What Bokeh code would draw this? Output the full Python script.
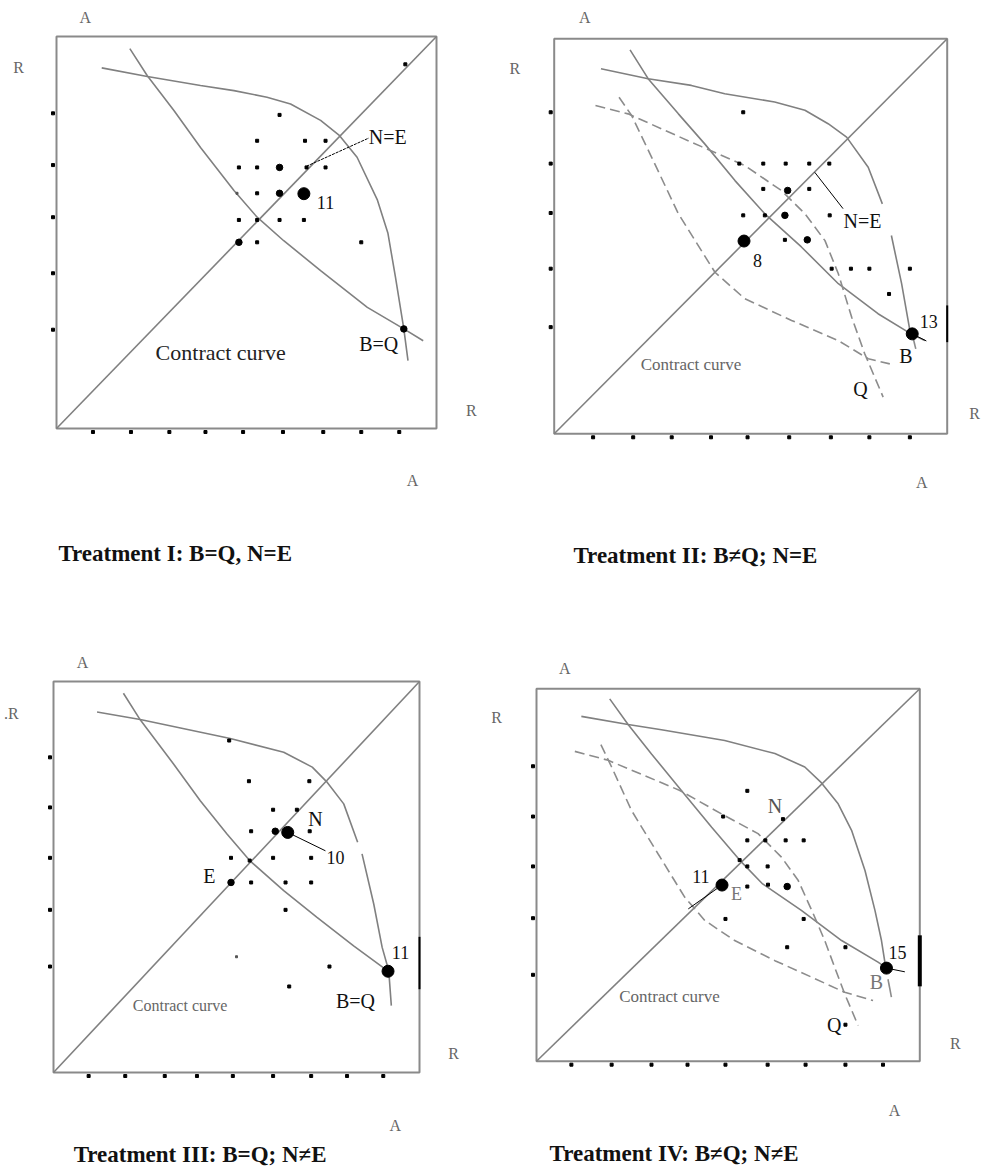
from bokeh.plotting import figure
from bokeh.layouts import column, row
from bokeh.models import Range1d, Label
from bokeh.embed import file_html
from bokeh.resources import INLINE

NAN = float("nan")

# ---------------- Panel I ----------------
t1_xticks = [0.96, 1.96, 2.97, 3.92, 4.91, 5.96, 7.02, 8.02, 9.02]
t1_yticks = [8.04, 6.72, 5.39, 3.96, 2.52]
t1_front_x = [1.19, 2.39, 3.79, 4.67, 5.54, 6.16, 6.95, 7.45, 7.91, 8.44, 8.72, 8.92, 9.14, 9.25]
t1_front_y = [9.20, 8.98, 8.75, 8.62, 8.45, 8.28, 7.86, 7.47, 6.92, 5.84, 4.99, 3.86, 2.54, 1.73]
t1_contr_x = [1.93, 2.39, 3.09, 3.79, 4.67, 5.28, 5.98, 6.95, 8.18, 9.14, 9.65]
t1_contr_y = [9.69, 9.00, 8.11, 7.17, 6.07, 5.39, 4.79, 4.03, 3.09, 2.54, 2.24]
t1_small_x = [5.87, 5.28, 6.54, 7.08, 4.80, 5.28, 6.58, 7.08, 5.28, 4.80, 5.28, 5.87, 6.51, 5.28, 8.02, 9.18]
t1_small_y = [8.00, 7.34, 7.34, 7.34, 6.66, 6.66, 6.66, 6.66, 6.00, 5.32, 5.32, 5.32, 5.32, 4.75, 4.75, 9.29]
t1_tiny_x = [4.75]
t1_tiny_y = [6.00]
t1_med_x = [5.87, 5.87, 4.80, 9.14]
t1_med_y = [6.66, 6.00, 4.75, 2.54]
t1_big_x = [6.51]
t1_big_y = [5.99]
t1_ptr_x = [6.58, 8.22]
t1_ptr_y = [6.69, 7.41]

# ---------------- Panel II ----------------
t2_xticks = [0.99, 2.01, 2.99, 3.99, 4.92, 5.98, 7.04, 8.02, 9.05]
t2_yticks = [8.14, 6.84, 5.59, 4.18, 2.70]
t2_front_x = [1.19, 2.39, 3.49, 4.34, 5.61, 6.38, 6.97, 7.44, 7.99, 8.35, NAN, 8.58, 8.84, 9.05]
t2_front_y = [9.24, 8.99, 8.82, 8.61, 8.40, 8.19, 7.85, 7.51, 6.75, 5.82, NAN, 5.02, 3.80, 2.62]
t2_contr_x = [1.93, 2.39, 3.16, 3.83, 4.60, 5.36, 6.29, 7.23, 8.24, 9.08, 9.43]
t2_contr_y = [9.72, 8.99, 8.10, 7.34, 6.41, 5.57, 4.73, 3.80, 3.04, 2.53, 2.36]
t2_dashA_x = [1.05, 1.88, 2.82, 3.75, 4.85, 5.78, 6.38, 6.89, 7.23, 7.57, 7.90, 8.37]
t2_dashA_y = [8.31, 8.10, 7.68, 7.27, 6.79, 6.16, 5.57, 4.89, 4.05, 2.95, 2.03, 0.93]
t2_dashB_x = [1.65, 1.97, 2.48, 3.16, 4.09, 4.85, 6.04, 7.23, 7.99, 8.54]
t2_dashB_y = [8.52, 8.06, 7.00, 5.57, 4.09, 3.42, 2.87, 2.36, 1.90, 1.77]
t2_small_x = [4.81, 4.71, 5.32, 5.89, 6.49, 7.00, 5.32, 6.49, 4.81, 5.36, 7.01, 5.87, 7.06, 7.55, 8.02, 9.05, 8.52]
t2_small_y = [8.14, 6.84, 6.84, 6.84, 6.84, 6.84, 6.20, 6.20, 5.53, 5.53, 5.53, 4.91, 4.18, 4.18, 4.18, 4.18, 3.54]
t2_med_x = [5.94, 5.87, 6.44]
t2_med_y = [6.16, 5.53, 4.91]
t2_big_x = [4.83, 9.11]
t2_big_y = [4.88, 2.53]
t2_ptr_x = [6.63, 7.35]
t2_ptr_y = [6.62, 5.70]
t2_bptr_x = [9.11, 9.47]
t2_bptr_y = [2.53, 2.35]
t2_tail_x = [9.14, 9.20]
t2_tail_y = [2.40, 2.15]
t2_edge_y = [2.32, 3.25]

# ---------------- Panel III ----------------
t3_xticks = [0.96, 1.96, 3.04, 3.92, 4.90, 6.00, 7.04, 8.02, 9.01]
t3_yticks = [8.06, 6.78, 5.49, 4.16, 2.71]
t3_front_x = [1.19, 2.37, 4.83, 6.29, 7.07, 7.46, 7.93, 8.31, NAN, 8.43, 8.75, 8.98, 9.16, 9.23]
t3_front_y = [9.22, 9.03, 8.54, 8.19, 7.81, 7.44, 6.87, 5.89, NAN, 5.59, 4.31, 3.20, 2.60, 1.71]
t3_contr_x = [1.91, 2.37, 3.28, 4.01, 4.74, 5.36, 6.29, 7.20, 8.20, 9.14]
t3_contr_y = [9.70, 9.02, 7.89, 6.95, 6.10, 5.42, 4.65, 3.97, 3.24, 2.59]
t3_small_x = [4.80, 5.34, 6.99, 6.00, 6.65, 5.40, 7.00, 4.85, 6.00, 7.04, 5.40, 6.34, 7.04, 6.34, 7.54, 6.44, 5.36]
t3_small_y = [8.49, 7.45, 7.45, 6.72, 6.72, 6.17, 6.17, 5.49, 5.49, 5.49, 4.86, 4.86, 4.86, 4.16, 2.71, 2.20, 5.42]
t3_tiny_x = [5.00]
t3_tiny_y = [2.96]
t3_med_x = [6.06, 4.85]
t3_med_y = [6.17, 4.86]
t3_big_x = [6.40, 9.14]
t3_big_y = [6.14, 2.59]
t3_ptr_x = [6.40, 7.43]
t3_ptr_y = [6.14, 5.67]
t3_edge_y = [2.13, 3.47]

# ---------------- Panel IV ----------------
t4_xticks = [0.91, 1.96, 3.00, 3.94, 4.93, 6.03, 7.02, 8.06, 9.04]
t4_yticks = [7.92, 6.57, 5.23, 3.84, 2.32]
t4_front_x = [1.17, 2.39, 3.26, 4.91, 6.22, 7.00, 7.43, 7.87, 8.22, 8.57, 8.83, 9.00, 9.11]
t4_front_y = [9.26, 9.04, 8.90, 8.61, 8.26, 7.90, 7.48, 6.91, 6.20, 5.12, 4.05, 3.24, 2.52]
t4_contr_x = [1.91, 2.39, 3.00, 3.78, 4.57, 5.30, 5.90, 6.91, 7.96, 8.91, 9.11]
t4_contr_y = [9.73, 9.04, 8.25, 7.27, 6.28, 5.40, 4.76, 4.05, 3.24, 2.66, 2.52]
t4_dashA_x = [1.00, 1.87, 3.74, 4.83, 5.78, 6.39, 6.83, 7.22, 7.52, 7.78, 8.04, 8.39]
t4_dashA_y = [8.32, 8.08, 7.27, 6.64, 6.11, 5.48, 4.85, 3.96, 3.24, 2.52, 1.81, 0.96]
t4_dashB_x = [1.68, 1.96, 2.48, 3.17, 3.87, 4.39, 5.17, 6.22, 7.17, 8.04, 8.78]
t4_dashB_y = [8.50, 7.90, 6.73, 5.57, 4.40, 3.78, 3.24, 2.70, 2.26, 1.85, 1.63]
t4_small_x = [5.50, 4.87, 6.43, 5.50, 5.97, 6.50, 6.97, 5.50, 6.03, 5.30, 5.50, 6.04, 4.93, 6.97, 6.54, 8.06, 8.06]
t4_small_y = [7.26, 6.57, 6.50, 5.93, 5.93, 5.93, 5.93, 5.23, 5.23, 5.40, 4.69, 4.74, 3.82, 3.82, 3.06, 3.06, 0.98]
t4_med_x = [6.54]
t4_med_y = [4.69]
t4_big_x = [4.84, 9.13]
t4_big_y = [4.73, 2.50]
t4_ptr_x = [3.96, 4.84]
t4_ptr_y = [4.09, 4.73]
t4_bptr_x = [9.13, 9.61]
t4_bptr_y = [2.50, 2.40]
t4_tail_x = [9.17, 9.26]
t4_tail_y = [2.20, 1.72]
t4_edge_y = [2.01, 3.38]

# Texts: (text, x, y, size, color, align, bold)
t1_texts = [("A", 0.76, 10.48, 16, "#666666", "center", False),
            ("R", -1.0, 9.21, 16, "#666666", "center", False),
            ("R", 10.92, 0.46, 16, "#666666", "center", False),
            ("A", 9.37, -1.33, 16, "#666666", "center", False),
            ("N=E", 8.22, 7.43, 20, "#111111", "left", False),
            ("11", 7.08, 5.77, 18, "#111111", "center", False),
            ("B=Q", 8.48, 2.15, 20, "#111111", "center", False),
            ("Contract curve", 4.32, 1.94, 22, "#222222", "center", False),
            ("Treatment I: B=Q, N=E", 0.05, -3.19, 23, "#111111", "left", True)]
t2_texts = [("A", 0.78, 10.55, 16, "#666666", "center", False),
            ("R", -1.0, 9.24, 16, "#666666", "center", False),
            ("R", 10.70, 0.51, 16, "#666666", "center", False),
            ("A", 9.35, -1.23, 16, "#666666", "center", False),
            ("N=E", 7.36, 5.40, 20, "#111111", "left", False),
            ("8", 5.17, 4.39, 18, "#111111", "center", False),
            ("13", 9.53, 2.85, 18, "#111111", "center", False),
            ("B", 8.95, 1.96, 20, "#111111", "center", False),
            ("Q", 7.79, 1.14, 20, "#111111", "center", False),
            ("Contract curve", 3.48, 1.76, 17, "#666666", "center", False),
            ("Treatment II: B\u2260Q; N=E", 0.49, -3.08, 23, "#111111", "left", True)]
t3_texts = [("A", 0.79, 10.49, 16, "#666666", "center", False),
            (".R", -1.15, 9.18, 16, "#666666", "center", False),
            ("R", 10.93, 0.49, 16, "#666666", "center", False),
            ("A", 9.34, -1.36, 16, "#666666", "center", False),
            ("N", 7.16, 6.48, 20, "#111111", "center", False),
            ("10", 7.46, 5.50, 18, "#111111", "left", False),
            ("E", 4.26, 5.03, 20, "#111111", "center", False),
            ("11", 9.48, 3.07, 18, "#111111", "center", False),
            ("B=Q", 8.25, 1.83, 20, "#111111", "center", False),
            ("Contract curve", 3.46, 1.72, 16, "#666666", "center", False),
            ("Treatment III: B=Q; N\u2260E", 0.55, -2.10, 23, "#111111", "left", True)]
t4_texts = [("A", 0.74, 10.54, 16, "#666666", "center", False),
            ("R", -1.04, 9.24, 16, "#666666", "center", False),
            ("R", 10.93, 0.47, 16, "#666666", "center", False),
            ("A", 9.34, -1.32, 16, "#666666", "center", False),
            ("N", 6.22, 6.86, 20, "#555555", "center", False),
            ("11", 4.29, 4.96, 18, "#111111", "center", False),
            ("E", 5.22, 4.50, 18, "#777777", "center", False),
            ("15", 9.42, 2.93, 18, "#111111", "center", False),
            ("B", 8.87, 2.12, 20, "#777777", "center", False),
            ("Q", 7.77, 0.98, 20, "#111111", "center", False),
            ("Contract curve", 3.47, 1.74, 17, "#666666", "center", False),
            ("Treatment IV: B\u2260Q; N\u2260E", 0.34, -2.48, 23, "#111111", "left", True)]

GREY = "#808080"
DASHGREY = "#8c8c8c"
FONT = "Liberation Serif"


def make_panel(fig_w, fig_h, box_l, box_r, box_t, box_b, xticks, yticks):
    """box_* are pixel positions of the 0..10 box inside the figure (from its top-left)."""
    ux = (box_r - box_l) / 10.0
    uy = (box_b - box_t) / 10.0
    xr = Range1d(-box_l / ux, (fig_w - box_l) / ux)
    yr = Range1d((box_b - fig_h) / uy, box_b / uy)
    p = figure(width=fig_w, height=fig_h, output_backend="svg", toolbar_location=None,
               tools="", title=None, x_range=xr, y_range=yr,
               x_axis_location=None, y_axis_location=None, min_border=0)
    p.grid.visible = False
    p.outline_line_color = None
    p.background_fill_color = "white"
    p.border_fill_color = "white"
    # box
    p.quad(left=[0], right=[10], bottom=[0], top=[10], fill_color=None,
           line_color="#8a8a8a", line_width=2)
    # tick dots just outside the box
    p.scatter(xticks, [-3.5 / uy] * len(xticks), marker="square", size=3, color="black")
    p.scatter([-3.5 / ux] * len(yticks), yticks, marker="square", size=3, color="black")
    # diagonal
    p.line([0, 10], [0, 10], line_color=GREY, line_width=1.6)
    return p


def add_texts(p, texts):
    for (t, x, y, size, color, align, bold) in texts:
        p.add_layout(Label(x=x, y=y, text=t, text_font=FONT, text_font_size=f"{size}px",
                           text_color=color, text_align=align, text_baseline="middle",
                           text_font_style="bold" if bold else "normal"))


def dots(p, sx, sy, mx, my, bx, by):
    p.scatter(sx, sy, marker="square", size=3, color="black")
    if mx:
        p.scatter(mx, my, marker="circle", size=6.5, color="black")
    if bx:
        p.scatter(bx, by, marker="circle", size=12, color="black")


# Panel I  (figure at page 0..491 x 0..600)
p1 = make_panel(491, 600, 56, 436, 36, 428, t1_xticks, t1_yticks)
p1.line(t1_front_x, t1_front_y, line_color=GREY, line_width=1.6)
p1.line(t1_contr_x, t1_contr_y, line_color=GREY, line_width=1.6)
p1.line(t1_ptr_x, t1_ptr_y, line_color="black", line_width=1, line_dash="3 1")
p1.scatter(t1_tiny_x, t1_tiny_y, marker="square", size=2, color="#555555")
dots(p1, t1_small_x, t1_small_y, t1_med_x, t1_med_y, t1_big_x, t1_big_y)
add_texts(p1, t1_texts)

# Panel II (figure at page 491..982 x 0..600)
p2 = make_panel(491, 600, 62.7, 455.7, 38.3, 433.3, t2_xticks, t2_yticks)
p2.line(t2_front_x, t2_front_y, line_color=GREY, line_width=1.6)
p2.line(t2_contr_x, t2_contr_y, line_color=GREY, line_width=1.6)
p2.line(t2_dashA_x, t2_dashA_y, line_color=DASHGREY, line_width=1.6, line_dash="10 5")
p2.line(t2_dashB_x, t2_dashB_y, line_color=DASHGREY, line_width=1.6, line_dash="10 5")
p2.line(t2_tail_x, t2_tail_y, line_color=DASHGREY, line_width=1.6)
p2.line(t2_ptr_x, t2_ptr_y, line_color="black", line_width=1)
p2.line(t2_bptr_x, t2_bptr_y, line_color="black", line_width=1)
p2.line([10, 10], t2_edge_y, line_color="black", line_width=2)
dots(p2, t2_small_x, t2_small_y, t2_med_x, t2_med_y, t2_big_x, t2_big_y)
add_texts(p2, t2_texts)

# Panel III (figure at page 0..491 x 600..1173)
p3 = make_panel(491, 573, 53, 419, 81, 472, t3_xticks, t3_yticks)
p3.line(t3_front_x, t3_front_y, line_color=GREY, line_width=1.6)
p3.line(t3_contr_x, t3_contr_y, line_color=GREY, line_width=1.6)
p3.line(t3_ptr_x, t3_ptr_y, line_color="black", line_width=1)
p3.line([10, 10], t3_edge_y, line_color="black", line_width=2)
p3.scatter(t3_tiny_x, t3_tiny_y, marker="square", size=2, color="#555555")
dots(p3, t3_small_x, t3_small_y, t3_med_x, t3_med_y, t3_big_x, t3_big_y)
add_texts(p3, t3_texts)

# Panel IV (figure at page 491..982 x 600..1173)
p4 = make_panel(491, 573, 45, 428.3, 88.3, 460.7, t4_xticks, t4_yticks)
p4.line(t4_front_x, t4_front_y, line_color=GREY, line_width=1.6)
p4.line(t4_contr_x, t4_contr_y, line_color=GREY, line_width=1.6)
p4.line(t4_dashA_x, t4_dashA_y, line_color=DASHGREY, line_width=1.6, line_dash="10 5")
p4.line(t4_dashB_x, t4_dashB_y, line_color=DASHGREY, line_width=1.6, line_dash="10 5")
p4.line(t4_tail_x, t4_tail_y, line_color=DASHGREY, line_width=1.6)
p4.line(t4_ptr_x, t4_ptr_y, line_color="black", line_width=1)
p4.line(t4_bptr_x, t4_bptr_y, line_color="black", line_width=1)
p4.line([10, 10], t4_edge_y, line_color="black", line_width=4)
dots(p4, t4_small_x, t4_small_y, t4_med_x, t4_med_y, t4_big_x, t4_big_y)
add_texts(p4, t4_texts)

layout = column(row(p1, p2), row(p3, p4))
open("out.html", "w").write(file_html(layout, INLINE))
